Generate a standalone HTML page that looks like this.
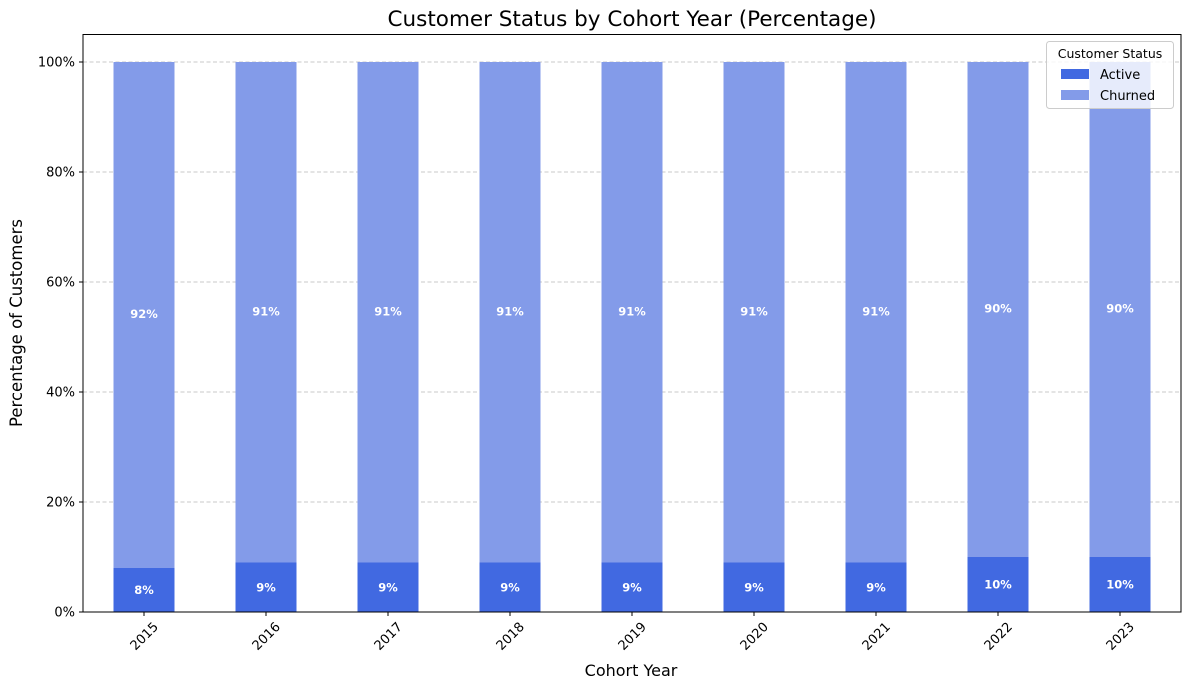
<!DOCTYPE html>
<html><head><meta charset="utf-8"><style>
body{margin:0;background:#fff}
svg{font-family:"DejaVu Sans","Liberation Sans",sans-serif}
</style></head><body>
<svg id="chart" width="1189" height="690">
<text x="632" y="26" font-size="21.5" text-anchor="middle">Customer Status by Cohort Year (Percentage)</text>
<g id="grid"></g><g id="bars"></g><g id="axes"></g>
<text x="631" y="676" font-size="16" text-anchor="middle">Cohort Year</text>
<text transform="translate(22,323) rotate(-90)" font-size="16.5" text-anchor="middle">Percentage of Customers</text>
<g>
<rect x="1046.5" y="41.5" width="127" height="67" rx="3" fill="#fff" fill-opacity="0.8" stroke="#ccc"/>
<text x="1110" y="58" font-size="12.5" text-anchor="middle">Customer Status</text>
<g><rect x="1061" y="69" width="28" height="10" fill="#4169e1"/><text x="1100" y="79" font-size="13">Active</text></g>
<g><rect x="1061" y="90" width="28" height="10" fill="#839be9"/><text x="1100" y="100" font-size="13">Churned</text></g>
</g>
</svg>
<script>
const categories=["2015","2016","2017","2018","2019","2020","2021","2022","2023"];
const activeVals=[8,9,9,9,9,9,9,10,10];
const churnedVals=[92,91,91,91,91,91,91,90,90];
const yTicks=[0,20,40,60,80,100];
const L=83,R=1181,T=34.5,B=612;
const ns="http://www.w3.org/2000/svg";
const band=(R-L)/categories.length;
const xC=i=>L+band*(i+0.5);
const y=v=>B-(v/105)*(B-T);
function mk(tag,attrs,parent,txt){const e=document.createElementNS(ns,tag);for(const k in attrs)e.setAttribute(k,attrs[k]);if(txt!==undefined)e.textContent=txt;parent.appendChild(e);return e;}
const grid=document.getElementById('grid'),bars=document.getElementById('bars'),axes=document.getElementById('axes');
yTicks.forEach(t=>{
 const g=mk('line',{x1:L,x2:R,y1:y(t),y2:y(t),stroke:'#c8c8c8','stroke-dasharray':'4,2.5'},grid);
 
 
 mk('line',{x1:L-4,x2:L,y1:y(t),y2:y(t),stroke:'#000'},axes);
 const lb=mk('text',{x:L-8,y:y(t)+4.5,'font-size':13,'text-anchor':'end'},axes,t+'%');
 
 
});
const bw=band*0.5;
categories.forEach((c,i)=>{
 const a=activeVals[i],ch=churnedVals[i];
 const r1=mk('rect',{x:xC(i)-bw/2,y:y(a),width:bw,height:y(0)-y(a),fill:'#4169e1'},bars);
 
 
 const r2=mk('rect',{x:xC(i)-bw/2,y:y(a+ch),width:bw,height:y(a)-y(a+ch),fill:'#839be9'},bars);
 
 
 const l1=mk('text',{x:xC(i),y:y(a/2)+4,'font-size':11.5,'font-weight':'bold',fill:'#fff','text-anchor':'middle'},bars,a+'%');
 
 
 const l2=mk('text',{x:xC(i),y:y(a+ch/2)+3,'font-size':11.5,'font-weight':'bold',fill:'#fff','text-anchor':'middle'},bars,ch+'%');
 
 
 mk('line',{x1:xC(i),x2:xC(i),y1:B,y2:B+4,stroke:'#000'},axes);
 const xl=mk('text',{transform:`translate(${xC(i)},${B+24}) rotate(-45)`,'font-size':13,'text-anchor':'middle',dy:'0.35em'},axes,c);
 
 
});
const fr=mk('rect',{x:L,y:T,width:R-L,height:B-T,fill:'none',stroke:'#000'},axes);


</script>
</body></html>
